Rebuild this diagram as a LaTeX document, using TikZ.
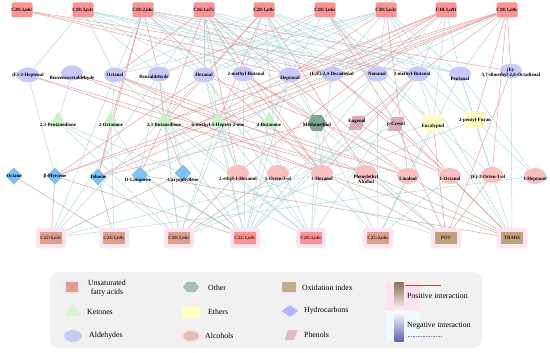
\documentclass[tikz,border=0pt]{standalone}
\usepackage{fontspec}
\setmainfont{Liberation Serif}
\usetikzlibrary{shapes.geometric,backgrounds}
\definecolor{ufared}{HTML}{F99494}
\definecolor{ufabrown}{HTML}{D9A08E}
\definecolor{halopink}{HTML}{FFE3F3}
\definecolor{aldblue}{HTML}{C9C9F9}
\definecolor{ketgreen}{HTML}{CBF3CB}
\definecolor{othgreen}{HTML}{7FA595}
\definecolor{phenmauve}{HTML}{D9AABB}
\definecolor{ethyellow}{HTML}{FFFFC4}
\definecolor{hydblue}{HTML}{7DC0F3}
\definecolor{alcpink}{HTML}{F9C0C0}
\definecolor{oxikhaki}{HTML}{BBA37A}
\definecolor{posred}{HTML}{E58585}
\definecolor{negteal}{HTML}{A3D2DA}
\definecolor{mixbrown}{HTML}{B9A190}
\definecolor{legendgray}{HTML}{F1F1F1}
\definecolor{barbrown}{HTML}{8A7050}
\definecolor{barblue}{HTML}{6262B4}
\definecolor{botlabel}{HTML}{5A1515}

\begin{document}
\begin{tikzpicture}[x=1pt,y=-1pt,
 lbl/.style={font=\fontsize{4.9}{5.3}\selectfont\bfseries,inner sep=0pt,align=center},
 ufa/.style={rectangle,rounded corners=1.5pt,fill=ufared,minimum width=21pt,minimum height=15pt,inner sep=0pt},
 bot/.style={rectangle,rounded corners=1pt,fill=ufabrown,draw=halopink,line width=4pt,minimum width=26pt,minimum height=16pt,inner sep=0pt},
 oxi/.style={bot,fill=oxikhaki},
 ald/.style={ellipse,fill=aldblue,minimum width=22pt,minimum height=15pt,inner sep=0pt},
 ket/.style={regular polygon,regular polygon sides=3,fill=ketgreen,minimum size=21pt,inner sep=0pt},
 oth/.style={regular polygon,regular polygon sides=6,fill=othgreen,minimum size=19pt,inner sep=0pt},
 phe/.style={trapezium,trapezium left angle=65,trapezium right angle=115,trapezium stretches=true,fill=phenmauve,minimum width=17pt,minimum height=14pt,inner sep=1pt},
 eth/.style={rectangle,fill=ethyellow,minimum width=20pt,minimum height=16pt,inner sep=0pt},
 hyd/.style={diamond,fill=hydblue,minimum size=17pt,inner sep=0pt},
 alc/.style={ellipse,fill=alcpink,minimum width=22pt,minimum height=16pt,inner sep=0pt},
 posedge/.style={draw=posred,line width=0.5pt,opacity=0.75},
 negedge/.style={draw=negteal,line width=0.5pt,opacity=0.8},
 mixedge/.style={draw=mixbrown,line width=0.5pt,opacity=0.8},
 legtxt/.style={font=\fontsize{7.8}{8.6}\selectfont,inner sep=0pt}
]
\useasboundingbox (0,0) rectangle (550,353);

\node[ufa,label={[lbl]center:{C20:3,n6c}}] (c203) at (22,10) {};
\node[ufa,label={[lbl]center:{C18:3,n3c}}] (c183a) at (83,10) {};
\node[ufa,label={[lbl]center:{C18:2,n6c}}] (c182) at (143,10) {};
\node[ufa,label={[lbl]center:{C16:1,n7c}}] (c161) at (204,10) {};
\node[ufa,label={[lbl]center:{C20:1,n9c}}] (c201) at (264,10) {};
\node[ufa,label={[lbl]center:{C18:3,n6c}}] (c183b) at (325,10) {};
\node[ufa,label={[lbl]center:{C20:5,n3c}}] (c205) at (386,10) {};
\node[ufa,label={[lbl]center:{C18:1,n9t}}] (c181t) at (446,10) {};
\node[ufa,label={[lbl]center:{C18:1,n9c}}] (c181c) at (507,10) {};

\node[ald,label={[lbl]center:{(E)-2-Heptenal}}] (ehep) at (28,75) {};
\node[ald,label={[lbl,yshift=-5pt]center:{Benzeneacetaldehyde}}] (benzac) at (72,73) {};
\node[ald,label={[lbl]center:{Octanal}}] (octal) at (115,75) {};
\node[ald,label={[lbl,xshift=-5pt,yshift=-3pt]center:{Benzaldehyde}}] (benzal) at (159,74) {};
\node[ald,label={[lbl]center:{Hexanal}}] (hexal) at (204,75) {};
\node[ald,label={[lbl,xshift=3pt]center:{2-methyl-Butanal}}] (mbut2) at (243,74) {};
\node[ald,label={[lbl,yshift=-3pt]center:{Heptanal}}] (heptal) at (290,75) {};
\node[ald,label={[lbl]center:{(E,E)-2,4-Decadienal}}] (deca) at (332,74) {};
\node[ald,label={[lbl]center:{Nonanal}}] (nonal) at (377,74) {};
\node[ald,label={[lbl,xshift=-6pt]center:{3-methyl-Butanal}}] (mbut3) at (418,74) {};
\node[ald,label={[lbl,yshift=-5pt]center:{Pentanal}}] (pental) at (460,74) {};
\node[ald,label={[lbl,yshift=-2pt]center:{(E)-\\3,7-dimethyl-2,6-Octadienal}}] (citral) at (511,71) {};

\node[ket,label={[lbl,yshift=-3pt]center:{2,3-Pentanedione}}] (pent) at (58,122) {};
\node[ket,label={[lbl,yshift=-3pt]center:{2-Octanone}}] (octon) at (111,122) {};
\node[ket,label={[lbl,yshift=-3pt]center:{2,3-Butanedione}}] (buta) at (164,122) {};
\node[ket,label={[lbl,yshift=-3pt]center:{6-methyl-5-Hepten-2-one}}] (mhep) at (218,122) {};
\node[ket,label={[lbl,yshift=-3pt]center:{2-Butanone}}] (butan) at (269,122) {};
\node[oth,label={[lbl,yshift=-2pt]center:{Methanethiol}}] (meth) at (317,123) {};
\node[phe,label={[lbl,yshift=2pt]center:{Eugenol}}] (eug) at (357,123) {};
\node[phe,label={[lbl]center:{p-Cresol}}] (cres) at (396,124) {};
\node[eth,label={[lbl,yshift=-3pt]center:{Eucalyptol}}] (euc) at (433,123) {};
\node[eth,label={[lbl]center:{2-pentyl-Furan}}] (furan) at (475,120) {};

\node[hyd,label={[lbl]center:{Octane}}] (octane) at (14,176) {};
\node[hyd,label={[lbl]center:{β-Myrcene}}] (myr) at (55,176) {};
\node[hyd,label={[lbl]center:{Toluene}}] (tol) at (98,177) {};
\node[hyd,label={[lbl,xshift=-2pt,yshift=-5pt]center:{D-Limonene}}] (lim) at (140,175) {};
\node[hyd,label={[lbl,yshift=-7pt]center:{Caryophyllene}}] (car) at (183,173) {};
\node[alc,label={[lbl,yshift=-6pt]center:{2-ethyl-1-Hexanol}}] (ehex) at (238,173) {};
\node[alc,label={[lbl,yshift=-6pt]center:{1-Octen-3-ol}}] (octen) at (278,173) {};
\node[alc,label={[lbl,yshift=-6pt]center:{1-Hexanol}}] (hexol) at (322,173) {};
\node[alc,label={[lbl,yshift=-6pt]center:{Phenylethyl\\Alcohol}}] (phen) at (366,173) {};
\node[alc,label={[lbl,yshift=-3pt]center:{Linalool}}] (lin) at (408,176) {};
\node[alc,label={[lbl,yshift=-3pt]center:{1-Octanol}}] (octol) at (450,176) {};
\node[alc,label={[lbl,xshift=-4pt,yshift=-2pt]center:{(E)-2-Octen-1-ol}}] (octenol) at (492,175) {};
\node[alc,label={[lbl,yshift=-3pt]center:{1-Heptanol}}] (heptol) at (535,176) {};

\node[bot,label={[lbl,text=botlabel]center:{C22:6,n3c}}] (c226) at (51,238) {};
\node[bot,label={[lbl,text=botlabel]center:{C24:1,n9c}}] (c241) at (114,238) {};
\node[bot,label={[lbl,text=botlabel]center:{C20:2,n6c}}] (c202) at (179,238) {};
\node[bot,fill=ufared,label={[lbl,text=botlabel]center:{C22:1,n9c}}] (c221) at (245,238) {};
\node[bot,fill=ufared,label={[lbl,text=botlabel]center:{C20:4,n6c}}] (c204) at (311,238) {};
\node[bot,label={[lbl,text=botlabel]center:{C22:4,n6c}}] (c224) at (378,238) {};
\node[oxi,label={[lbl,text=botlabel]center:{POV}}] (pov) at (446,238) {};
\node[oxi,label={[lbl,text=botlabel]center:{TBARS}}] (tbars) at (512,238) {};

\begin{scope}[on background layer]
\foreach \a/\b in {c203/heptal,c203/deca,c203/mbut3,c182/benzal,c182/octon,c182/tol,c182/citral,
  c182/hexol,c182/deca,c161/octal,c161/buta,c161/ehex,c161/lin,c161/hexol,c201/hexal,c201/mhep,
  c201/phen,c201/buta,c183b/benzal,c183b/octol,c183b/cres,c205/heptal,c205/lin,c181t/mhep,
  c181t/heptal,c181t/deca,c181t/ehex,c181t/buta,c181c/mhep,c181c/buta,c181c/tol,c181c/citral,
  c181c/furan,c181c/mbut3,c181c/octenol,c181c/deca,c181c/heptal,ehep/hexol,ehep/phen,benzac/hexol,
  benzac/lin,octal/mhep,octal/lin,octal/phen,benzal/buta,hexal/myr,hexal/octol,mbut2/hexol,
  mbut2/lin,mbut2/meth,heptal/tol,deca/cres,deca/octol,deca/myr,mbut3/eug,mbut3/hexol,citral/pov,
  octon/tol,buta/lim,buta/car,buta/phen,mhep/myr,meth/tol,eug/octol,cres/pov,cres/tbars,euc/pov}
  \draw[posedge] (\a) -- (\b);
\foreach \a/\b in {c183a/ehep,c183a/hexal,c183a/mbut2,c183a/deca,c183a/nonal,c183a/mbut3,
  c183a/octal,c183a/benzal,c182/hexal,c182/mbut2,c182/heptal,c182/octal,c182/nonal,c182/pental,
  c161/benzal,c161/hexal,c161/mbut2,c161/heptal,c161/deca,c161/mhep,c161/butan,c161/pental,
  c161/nonal,c161/meth,c201/heptal,c201/mbut2,c201/octal,c201/deca,c201/mbut3,c201/meth,
  c201/octen,c201/nonal,c201/pental,c183b/heptal,c183b/nonal,c183b/mbut3,c183b/euc,c183b/mbut2,
  c183b/hexal,c205/hexal,c205/mbut2,c205/benzal,c205/deca,c205/mbut3,c205/pental,c205/furan,
  c205/nonal,c205/octal,c181t/mbut3,c181t/euc,c181t/pental,c181t/nonal,c181c/pental,c181c/nonal,
  ehep/myr,benzac/pent,octal/octon,octal/c226,octal/c204,benzal/car,benzal/lim,benzal/c202,
  benzal/c226,hexal/ehex,hexal/octen,hexal/c221,hexal/c204,hexal/c226,mbut2/c221,mbut2/c204,
  mbut2/c202,heptal/butan,heptal/c224,heptal/c221,deca/lim,deca/c204,nonal/meth,nonal/c224,
  nonal/octenol,nonal/c221,mbut3/euc,mbut3/furan,mbut3/c221,mbut3/c204,mbut3/tbars,pental/furan,
  pental/octenol,pental/heptol,pental/c224,citral/tbars,pent/c221,pent/car,pent/c202,octon/c241,
  octon/c202,buta/c221,buta/c204,buta/c202,mhep/ehex,mhep/c221,mhep/c202,mhep/c204,butan/c224,
  butan/c221,butan/lim,meth/hexol,meth/c204,meth/pov,eug/c221,cres/c202,euc/c224,euc/octen,
  euc/tbars,furan/tbars,furan/heptol,furan/c202,tol/c202,car/c204,ehex/pov,octen/c221,hexol/c226,
  octol/c224,heptol/c226}
  \draw[negedge] (\a) -- (\b);
\foreach \a/\b in {octane/c241,myr/c221,myr/c226,lim/c221,lim/tbars,car/c226,car/c221,
  ehex/c202,octen/c202,hexol/tbars,hexol/pov,phen/tbars,phen/pov,lin/tbars,octol/tbars,
  octenol/pov,tol/c241}
  \draw[mixedge] (\a) -- (\b);
\end{scope}

\node[fill=legendgray,rounded corners=9pt,minimum width=432pt,minimum height=76pt,inner sep=0pt] (legend) at (266,310) {};
\node[rectangle,fill=halopink,minimum width=34pt,minimum height=29pt,inner sep=0pt] (pinkbg) at (403,296.5) {};
\node[rectangle,fill=cyan!6,minimum width=34pt,minimum height=30pt,inner sep=0pt] (cyanbg) at (403,326) {};

\node[rectangle,fill=ufabrown,draw=halopink,line width=2.5pt,minimum width=15pt,minimum height=12pt,inner sep=0pt] (kufa) at (72,287) {};
\node[legtxt,align=center] (tufa) at (107,288) {Unsaturated\\fatty acids};
\node[regular polygon,regular polygon sides=3,fill=ketgreen!80,minimum size=17pt,inner sep=0pt] (kket) at (73,311) {};
\node[legtxt,anchor=west] (tket) at (87,312) {Ketones};
\node[ellipse,fill=aldblue,minimum width=18pt,minimum height=12pt,inner sep=0pt] (kald) at (73,336) {};
\node[legtxt,anchor=west] (tald) at (89,336) {Aldehydes};

\node[regular polygon,regular polygon sides=6,fill=othgreen!70,minimum size=16pt,yscale=0.75,inner sep=0pt] (koth) at (191,287) {};
\node[legtxt,anchor=west] (toth) at (208,288) {Other};
\node[rectangle,fill=ethyellow,minimum width=18pt,minimum height=11pt,inner sep=0pt] (keth) at (191,312) {};
\node[legtxt,anchor=west] (teth) at (208,312) {Ethers};
\node[ellipse,fill=ufabrown!70,draw=halopink,line width=2pt,minimum width=18pt,minimum height=12pt,inner sep=0pt] (kalc) at (191,336) {};
\node[legtxt,anchor=west] (talc) at (205,336) {Alcohols};

\node[rectangle,rounded corners=1pt,fill=oxikhaki!90,minimum width=14pt,minimum height=10pt,inner sep=0pt] (koxi) at (289,287) {};
\node[legtxt,anchor=west] (toxi) at (302,288) {Oxidation index};
\node[diamond,fill=aldblue!90!blue,minimum width=17pt,minimum height=12pt,inner sep=0pt] (khyd) at (290,311) {};
\node[legtxt,anchor=west] (thyd) at (304,311) {Hydrocarbons};
\node[trapezium,trapezium left angle=60,trapezium right angle=120,trapezium stretches=true,fill=phenmauve!80,minimum width=13pt,minimum height=10pt,inner sep=1pt] (kphe) at (291,335) {};
\node[legtxt,anchor=west] (tphe) at (304,335) {Phenols};

\node[rectangle,top color=barbrown,bottom color=barblue,middle color=white,minimum width=9pt,minimum height=59pt,inner sep=0pt] (bar) at (399,311.5) {};
\coordinate (posa) at (405,285);
\coordinate (posb) at (441,285);
\draw[draw=barbrown!60!red,line width=0.6pt] (posa) -- (posb);
\node[legtxt,anchor=west] (tpos) at (407,296) {Positive interaction};
\node[legtxt,anchor=west] (tneg) at (407,326) {Negative interaction};
\coordinate (nega) at (408,336);
\coordinate (negb) at (443,336);
\draw[draw=barblue!80,line width=0.6pt,dash pattern=on 1.5pt off 1pt] (nega) -- (negb);
\end{tikzpicture}
\end{document}
